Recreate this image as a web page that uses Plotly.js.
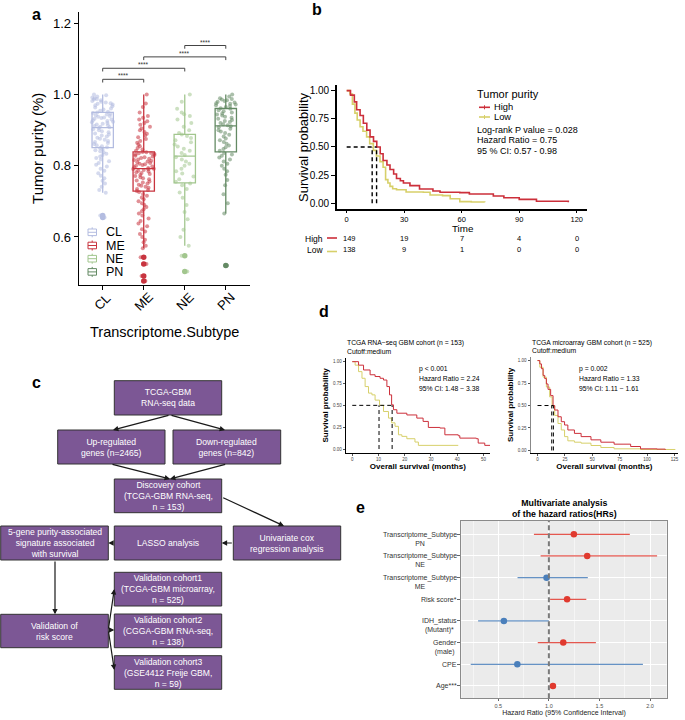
<!DOCTYPE html>
<html><head><meta charset="utf-8">
<script src="https://cdn.plot.ly/plotly-3.0.1.min.js"></script>
<style>html,body{margin:0;padding:0;background:#fff}#chart{width:685px;height:720px}</style>
</head><body><div id="chart"></div>
<script>
const W=685,H=720;
const FONT='Liberation Sans, Arial, Helvetica, sans-serif';
const px=x=>x/W, py=y=>1-y/H;

/* ---------- Panel a data ---------- */
const subtypes=['CL','ME','NE','PN'];
const subColors=['#b3bce0','#c8343f','#a2c68e','#648a64'];
const boxQ1=[0.851,0.729,0.752,0.839];
const boxMedian=[0.907,0.792,0.827,0.912];
const boxQ3=[0.950,0.839,0.888,0.961];
const boxLower=[0.724,0.568,0.575,0.666];
const boxUpper=[1.000,1.000,1.000,1.000];
const purityCL=[0.724,0.732,0.741,0.75,0.758,0.765,0.772,0.779,0.786,0.792,0.798,0.803,0.808,0.813,0.818,0.822,0.826,0.83,0.834,0.838,0.841,0.844,0.847,0.85,
0.852,0.855,0.858,0.861,0.864,0.867,0.87,0.873,0.876,0.879,0.882,0.885,0.888,0.891,0.894,0.897,0.9,0.903,0.906,
0.908,0.91,0.912,0.914,0.916,0.918,0.92,0.922,0.924,0.926,0.928,0.93,0.932,0.934,0.936,0.938,0.94,0.942,0.944,0.946,0.948,0.95,
0.952,0.955,0.958,0.961,0.964,0.967,0.97,0.972,0.974,0.976,0.978,0.98,0.982,0.984,0.986,0.988,0.99,0.992,0.995,0.998,1.0,0.66,0.655];
const purityME=[0.568,0.575,0.585,0.592,0.6,0.608,0.615,0.622,0.63,0.638,0.645,0.652,0.66,0.666,0.672,0.678,0.684,0.69,0.695,0.7,0.706,0.711,0.716,0.721,0.726,
0.729,0.732,0.735,0.738,0.741,0.744,0.747,0.75,0.753,0.756,0.759,0.762,0.765,0.768,0.771,0.774,0.777,0.78,0.782,0.784,0.786,0.788,0.79,0.791,0.792,
0.794,0.796,0.798,0.8,0.802,0.804,0.806,0.808,0.81,0.812,0.814,0.816,0.818,0.82,0.822,0.824,0.826,0.828,0.83,0.832,0.834,0.835,0.836,0.838,0.839,
0.842,0.846,0.85,0.855,0.86,0.865,0.87,0.875,0.88,0.885,0.89,0.895,0.9,0.905,0.91,0.915,0.92,0.925,0.93,0.935,0.94,0.95,0.965,0.975,1.0,
0.543,0.524,0.49,0.476];
const purityNE=[0.575,0.6,0.62,0.65,0.67,0.69,0.71,0.725,0.735,0.745,0.75,
0.755,0.762,0.77,0.778,0.785,0.792,0.8,0.806,0.812,0.818,0.824,
0.83,0.836,0.842,0.848,0.854,0.86,0.866,0.872,0.878,0.884,0.888,
0.892,0.9,0.91,0.92,0.93,0.94,0.945,0.95,0.96,0.98,1.0,0.547,0.503];
const purityPN=[0.666,0.695,0.72,0.745,0.76,0.775,0.785,0.792,0.8,0.806,0.812,0.818,0.823,0.828,0.832,0.836,
0.842,0.847,0.852,0.857,0.862,0.867,0.872,0.877,0.882,0.887,0.892,0.896,0.9,0.904,0.908,0.911,
0.914,0.917,0.92,0.923,0.926,0.929,0.932,0.935,0.938,0.941,0.944,0.947,0.95,0.953,0.956,0.96,
0.962,0.965,0.968,0.97,0.972,0.974,0.976,0.978,0.98,0.982,0.984,0.986,0.988,0.99,0.995,1.0,0.52];
const purity=[purityCL,purityME,purityNE,purityPN];
const outCL=[0.66,0.655], outME=[0.543,0.524,0.49,0.476], outNE=[0.547,0.503], outPN=[0.52];
const outliers=[outCL,outME,outNE,outPN];
const comparisons=[['CL','ME',1.043],['CL','NE',1.074],['ME','PN',1.106],['NE','PN',1.138]];
const sigText='****';

/* ---------- Panel b data ---------- */
const bHighT=[0,2,4,5.2,7,8.7,10.5,12.2,14,15.7,17.5,19,21,22.6,24.5,26,28,29.6,33,38,45,48.7,59,64,76.5,82,90,99,115.6];
const bHighS=[1,0.96,0.9,0.83,0.78,0.71,0.65,0.59,0.55,0.5,0.44,0.38,0.34,0.3,0.26,0.22,0.2,0.18,0.157,0.127,0.11,0.098,0.095,0.083,0.065,0.05,0.035,0.018,0.01];
const bLowT=[0,1.7,3,4.3,5.5,7,8.5,10.4,12,13.9,15.5,17.4,19,20.3,21.5,22.6,24,26,31,40,43.5,50,54,59,65,72];
const bLowS=[1,0.97,0.88,0.8,0.74,0.68,0.64,0.59,0.53,0.47,0.42,0.37,0.32,0.21,0.18,0.15,0.13,0.12,0.1,0.098,0.074,0.068,0.04,0.015,0.012,0.01];
const bMedianHigh=15.6, bMedianLow=13.3;
const riskTimes=[0,30,60,90,120];
const riskHigh=[149,19,7,4,0];
const riskLow=[138,9,1,0,0];
const bStats=['Log-rank P value = 0.028','Hazard Ratio = 0.75','95 % CI: 0.57 - 0.98'];

/* ---------- Panel d data ---------- */
const dLHighT=[0,2.4,4.3,6.8,8.7,10.6,11.9,13.2,14.2,15,15.7,17,20.8,24.6,27,29,33.4,35.3,40.4,41,47.3,48,50.5,53];
const dLHighS=[1,0.96,0.905,0.85,0.83,0.81,0.79,0.715,0.62,0.506,0.45,0.41,0.39,0.354,0.316,0.247,0.24,0.163,0.152,0.125,0.118,0.068,0.042,0.042];
const dLLowT=[0,1.1,2.4,3.7,4.9,6.2,7.5,8.7,10.4,11.9,13.8,15,16.3,17.6,18.9,20.8,23.9,25.2,40.4];
const dLLowS=[1,0.96,0.886,0.81,0.715,0.64,0.62,0.56,0.5,0.43,0.354,0.3,0.26,0.163,0.145,0.118,0.08,0.042,0.042];
const dLMedians=[15.2,10.2];
const dLStats=['p < 0.001','Hazard Ratio = 2.24','95% CI: 1.48 − 3.38'];
const dRHighT=[0,2.1,3.6,5.1,6.6,8.1,9.6,12,14.2,15.7,18.7,21.7,24.7,27.7,33.7,39.8,48.8,57.8,69.9,78.9,85,94,109,116.6];
const dRHighS=[1,0.963,0.91,0.835,0.8,0.74,0.68,0.61,0.5,0.45,0.375,0.32,0.283,0.228,0.19,0.154,0.118,0.092,0.07,0.07,0.044,0.018,0.015,0.007];
const dRLowT=[0,2.1,5.1,8.1,11.1,13.3,15.7,18.7,21.7,24.7,27.7,33.7,39.8,48.8,57.8,69.9,94,125.6];
const dRLowS=[1,0.926,0.816,0.706,0.596,0.496,0.39,0.3,0.228,0.154,0.107,0.092,0.081,0.055,0.033,0.018,0.011,0.007];
const dRMedians=[14.5,13.0];
const dRStats=['p = 0.002','Hazard Ratio = 1.33','95% CI: 1.11 − 1.61'];

/* ---------- Panel e data ---------- */
const eLabels=['Transcriptome_Subtype<br>PN','Transcriptome_Subtype<br>NE','Transcriptome_Subtype<br>ME','Risk score*','IDH_status<br>(Mutant)*','Gender<br>(male)','CPE','Age***'];
const eHR  =[1.247,1.379,0.977,1.180,0.555,1.142,0.688,1.040];
const eLow =[0.852,0.918,0.690,1.012,0.300,0.890,0.227,1.020];
const eHigh=[1.800,2.070,1.385,1.370,1.000,1.465,1.930,1.060];

/* ---------- Panel c content ---------- */
const flowTexts=['TCGA-GBM<br>RNA-seq data','Up-regulated<br>genes (n=2465)','Down-regulated<br>genes (n=842)',
'Discovery cohort<br>(TCGA-GBM RNA-seq,<br>n = 153)','5-gene purity-associated<br>signature associated<br>with survival','LASSO analysis',
'Univariate cox<br>regression analysis','Validation cohort1<br>(TCGA-GBM microarray,<br>n = 525)','Validation of<br>risk score',
'Validation cohort2<br>(CGGA-GBM RNA-seq,<br>n = 138)','Validation cohort3<br>(GSE4412 Freije GBM,<br>n = 59)'];

/* ======== styles ======== */
const RED='#cc2f3a', YEL='#d7d06a';
const HR_RED='#e03a2f', HR_BLUE='#4a7fbb';
const traces=[], shapes=[], annotations=[];
const ann=(o)=>annotations.push(Object.assign({showarrow:false,xanchor:'center',yanchor:'middle',borderpad:0,font:{family:FONT,size:10,color:'#000'}},o));

/* ---- a ---- */
subtypes.forEach((s,i)=>{
  traces.push({type:'box',name:s,x:[s],q1:[boxQ1[i]],median:[boxMedian[i]],q3:[boxQ3[i]],lowerfence:[boxLower[i]],upperfence:[boxUpper[i]],
    xaxis:'x',yaxis:'y',width:0.52,whiskerwidth:0,boxpoints:false,line:{color:subColors[i],width:1.3},fillcolor:'rgba(255,255,255,0)',hoverinfo:'skip'});
});
subtypes.forEach((s,i)=>{
  traces.push({type:'box',name:s,x:purity[i].map(()=>s),y:purity[i],xaxis:'x',yaxis:'y',boxpoints:'all',jitter:0.9,pointpos:0,width:0.6,
    whiskerwidth:0,line:{width:0,color:'rgba(0,0,0,0)'},fillcolor:'rgba(0,0,0,0)',marker:{color:subColors[i],size:4,opacity:0.55},hoverinfo:'skip'});
});
subtypes.forEach((s,i)=>{
  traces.push({type:'scatter',mode:'markers',x:outliers[i].map(()=>s),y:outliers[i],xaxis:'x',yaxis:'y',marker:{color:subColors[i],size:5.5},hoverinfo:'skip'});
});
comparisons.forEach(([a,b,yv])=>{
  const i0=subtypes.indexOf(a), i1=subtypes.indexOf(b);
  shapes.push({type:'path',xref:'x',yref:'y',path:`M ${i0},${yv-0.009} L ${i0},${yv} L ${i1},${yv} L ${i1},${yv-0.009}`,line:{color:'#444',width:1}});
  ann({xref:'x',yref:'y',x:(i0+i1)/2,y:yv,yanchor:'bottom',yshift:-1,text:sigText,font:{family:FONT,size:6.5,color:'#333'}});
});
// rotated category labels
subtypes.forEach(s=>ann({xref:'x',yref:'paper',x:s,y:py(301.5),text:s,textangle:-45,font:{family:FONT,size:13}}));
ann({xref:'paper',yref:'paper',x:px(164),y:py(332),text:'Transcriptome.Subtype',font:{family:FONT,size:14.5}});
// legend for a (manual)
subtypes.forEach((s,i)=>{
  const cy=232.3+i*13.2;
  shapes.push({type:'rect',xref:'paper',yref:'paper',x0:px(88),x1:px(96.5),y0:py(cy-3.3),y1:py(cy+3.3),line:{color:subColors[i],width:1},fillcolor:'rgba(255,255,255,0)'});
  shapes.push({type:'line',xref:'paper',yref:'paper',x0:px(88),x1:px(96.5),y0:py(cy),y1:py(cy),line:{color:subColors[i],width:1}});
  shapes.push({type:'line',xref:'paper',yref:'paper',x0:px(92.2),x1:px(92.2),y0:py(cy-5),y1:py(cy-3.3),line:{color:subColors[i],width:1}});
  shapes.push({type:'line',xref:'paper',yref:'paper',x0:px(92.2),x1:px(92.2),y0:py(cy+3.3),y1:py(cy+5),line:{color:subColors[i],width:1}});
  ann({xref:'paper',yref:'paper',x:px(105),y:py(cy),xanchor:'left',text:s,font:{family:FONT,size:12.5,color:'#000'}});
});

/* ---- b ---- */
traces.push({type:'scatter',mode:'lines',x:bLowT,y:bLowS,xaxis:'x2',yaxis:'y2',line:{shape:'hv',color:YEL,width:1.6},hoverinfo:'skip'});
traces.push({type:'scatter',mode:'lines',x:bHighT,y:bHighS,xaxis:'x2',yaxis:'y2',line:{shape:'hv',color:RED,width:1.6},hoverinfo:'skip'});
shapes.push({type:'line',xref:'x2',yref:'y2',x0:0,x1:bMedianHigh,y0:0.5,y1:0.5,line:{color:'#000',width:1.4,dash:'4px,3px'}});
[bMedianLow,bMedianHigh].forEach(m=>shapes.push({type:'line',xref:'x2',yref:'y2',x0:m,x1:m,y0:0,y1:0.5,line:{color:'#000',width:1.4,dash:'4px,3px'}}));
ann({xref:'paper',yref:'paper',x:px(476),y:py(94.3),xanchor:'left',text:'Tumor purity',font:{family:FONT,size:11}});
[['High',RED,107.3],['Low',YEL,117]].forEach(([t,c,y])=>{
  shapes.push({type:'line',xref:'paper',yref:'paper',x0:px(479),x1:px(490),y0:py(y),y1:py(y),line:{color:c,width:1.6}});
  shapes.push({type:'line',xref:'paper',yref:'paper',x0:px(484.5),x1:px(484.5),y0:py(y-2),y1:py(y+2),line:{color:c,width:1}});
  ann({xref:'paper',yref:'paper',x:px(493),y:py(y),xanchor:'left',text:t,font:{family:FONT,size:9.3}});
});
bStats.forEach((t,i)=>ann({xref:'paper',yref:'paper',x:px(476),y:py(130+i*10.4),xanchor:'left',text:t,font:{family:FONT,size:9}}));
[['High',RED,239,riskHigh],['Low',YEL,249.5,riskLow]].forEach(([t,c,y,vals],k)=>{
  ann({xref:'paper',yref:'paper',x:px(324),y:py(y),xanchor:'right',text:t,font:{family:FONT,size:8.5}});
  shapes.push({type:'line',xref:'paper',yref:'paper',x0:px(327),x1:px(337),y0:py(y+k*3-1),y1:py(y+k*3-1),line:{color:c,width:1.6}});
  riskTimes.forEach((tm,j)=>ann({xref:'x2',yref:'paper',x:tm,y:py(y),text:String(vals[j]),xshift:j===0?3:0,font:{family:FONT,size:7.5}}));
});
ann({xref:'paper',yref:'paper',x:px(304),y:py(147),text:'Survival probability',textangle:-90,font:{family:FONT,size:13}});
ann({xref:'paper',yref:'paper',x:px(463),y:py(228),text:'Time',font:{family:FONT,size:9.8}});

/* ---- d ---- */
traces.push({type:'scatter',mode:'lines',x:dLLowT,y:dLLowS,xaxis:'x3',yaxis:'y3',line:{shape:'hv',color:YEL,width:1},hoverinfo:'skip'});
traces.push({type:'scatter',mode:'lines',x:dLHighT,y:dLHighS,xaxis:'x3',yaxis:'y3',line:{shape:'hv',color:RED,width:1},hoverinfo:'skip'});
traces.push({type:'scatter',mode:'lines',x:dRLowT,y:dRLowS,xaxis:'x4',yaxis:'y4',line:{shape:'hv',color:YEL,width:1},hoverinfo:'skip'});
traces.push({type:'scatter',mode:'lines',x:dRHighT,y:dRHighS,xaxis:'x4',yaxis:'y4',line:{shape:'hv',color:RED,width:1},hoverinfo:'skip'});
[['x3','y3',dLMedians],['x4','y4',dRMedians]].forEach(([xr,yr,m])=>{
  shapes.push({type:'line',xref:xr,yref:yr,x0:0,x1:Math.max(...m),y0:0.5,y1:0.5,line:{color:'#000',width:1,dash:'4px,3px'}});
  m.forEach(v=>shapes.push({type:'line',xref:xr,yref:yr,x0:v,x1:v,y0:0,y1:0.5,line:{color:'#000',width:1,dash:'4px,3px'}}));
});
ann({xref:'paper',yref:'paper',x:px(345.5),y:py(343.3),xanchor:'left',text:'TCGA RNA−seq GBM cohort (n = 153)',font:{family:FONT,size:6.8}});
ann({xref:'paper',yref:'paper',x:px(345.5),y:py(351.5),xanchor:'left',text:'Cutoff:medium',font:{family:FONT,size:6.8}});
ann({xref:'paper',yref:'paper',x:px(530.5),y:py(343.3),xanchor:'left',text:'TCGA microarray GBM cohort (n = 525)',font:{family:FONT,size:6.8}});
ann({xref:'paper',yref:'paper',x:px(530.5),y:py(350.5),xanchor:'left',text:'Cutoff:medium',font:{family:FONT,size:6.8}});
dLStats.forEach((t,i)=>ann({xref:'paper',yref:'paper',x:px(417.5),y:py(369+i*9.9),xanchor:'left',text:t,font:{family:FONT,size:6.8}}));
dRStats.forEach((t,i)=>ann({xref:'paper',yref:'paper',x:px(578),y:py(369+i*9.5),xanchor:'left',text:t,font:{family:FONT,size:6.8}}));

/* ---- e ---- */
shapes.push({type:'rect',xref:'x5 domain',yref:'y5 domain',x0:0,x1:1,y0:0,y1:1,fillcolor:'#ebebeb',line:{width:0},layer:'below'});
shapes.push({type:'line',xref:'x5',yref:'y5 domain',x0:1,x1:1,y0:0,y1:1,line:{color:'#7a7a7a',width:2,dash:'5px,3px'}});
[[h=>h>=1,HR_RED,'rgba(224,58,47,0.85)'],[h=>h<1,HR_BLUE,'rgba(74,127,187,0.85)']].forEach(([f,c,cl])=>{
  const idx=eHR.map((h,i)=>i).filter(i=>f(eHR[i]));
  traces.push({type:'scatter',mode:'markers',xaxis:'x5',yaxis:'y5',x:idx.map(i=>eHR[i]),y:idx.map(i=>eLabels[i]),
    marker:{color:c,size:6.5},error_x:{type:'data',symmetric:false,array:idx.map(i=>eHigh[i]-eHR[i]),arrayminus:idx.map(i=>eHR[i]-eLow[i]),color:cl,thickness:1.3,width:0},hoverinfo:'skip'});
});
eLabels.forEach(l=>{
  const two=l.includes('<br>');
  ann({xref:'paper',yref:'y5',x:px(457.5),y:l,xanchor:'right',yanchor:two?'top':'middle',yshift:two?4.6:0,align:'center',text:l,font:{family:FONT,size:7,color:'#333'}});
});
ann({xref:'paper',yref:'paper',x:px(564),y:py(508),text:'<b>Multivariate analysis<br>of the hazard ratios(HRs)</b>',font:{family:FONT,size:8.8,color:'#000'}});

/* ---- c flowchart ---- */
const flowGeom=[[114.3,221.7,380.7,415],[57.7,165,430,464],[173,280.7,430,464],[114.3,221.7,479,512.7],[0.7,108.3,526,560],[114.3,221.7,526,560],
[233.3,340.7,526,560],[114.3,221.7,572.3,606],[0.7,108.3,614.3,647.7],[114.3,221.7,614,647.7],[114.3,221.7,655.7,689.3]];
flowGeom.forEach((g,i)=>{
  shapes.push({type:'rect',xref:'paper',yref:'paper',x0:px(g[0]),x1:px(g[1]),y0:py(g[3]),y1:py(g[2]),fillcolor:'#7c5795',line:{color:'#333',width:1}});
  ann({xref:'paper',yref:'paper',x:px((g[0]+g[1])/2),y:py((g[2]+g[3])/2),text:flowTexts[i],font:{family:FONT,size:8.6,color:'#fff'}});
});
const arrows=[[170,415,113,430],[170,415,225,430],[111,464,170,479],[226.7,464,170,479],[221.7,497,284,526],[233.3,543,221.7,543],
[114.3,543,108.3,543],[55,560,55,614.3],[108.3,630,114.3,589],[108.3,630,114.3,630],[108.3,630,114.3,670]];
arrows.forEach(([x0,y0,x1,y1])=>annotations.push({xref:'paper',yref:'paper',x:px(x1),y:py(y1),ax:x0-x1,ay:y0-y1,text:'',showarrow:true,
  arrowhead:2,arrowsize:0.9,arrowwidth:1.2,arrowcolor:'#1a1a1a',standoff:0,startstandoff:0}));

/* ---- panel letters ---- */
[['a',36,14],['b',317,10],['c',36,382],['d',324,311],['e',360,507]].forEach(([t,x,y])=>ann({xref:'paper',yref:'paper',x:px(x),y:py(y),text:'<b>'+t+'</b>',font:{family:FONT,size:16}}));

const axBase={showgrid:false,zeroline:false,showline:true,linecolor:'#000',ticks:'outside',tickcolor:'#000'};
const layout={
  width:W,height:H,margin:{l:0,r:0,t:0,b:0},paper_bgcolor:'#fff',plot_bgcolor:'rgba(0,0,0,0)',showlegend:false,
  font:{family:FONT,color:'#000'},
  xaxis:Object.assign({},axBase,{domain:[px(78.7),px(250)],anchor:'y',type:'category',categoryorder:'array',categoryarray:subtypes,range:[-0.585,3.59],
    linewidth:1,ticklen:4,showticklabels:false}),
  yaxis:Object.assign({},axBase,{domain:[py(285),py(11.7)],anchor:'x',range:[0.465,1.233],tickvals:[0.6,0.8,1.0,1.2],tickformat:'.1f',
    linewidth:1,ticklen:4,tickfont:{size:13},title:{text:'Tumor purity (%)',font:{size:15},standoff:5}}),
  xaxis2:Object.assign({},axBase,{domain:[px(336.7),px(586.7)],anchor:'y2',range:[-5.2,125.2],tickvals:riskTimes,linewidth:1.6,ticklen:2.5,
    tickfont:{size:7.5}}),
  yaxis2:Object.assign({},axBase,{domain:[py(209.3),py(85)],anchor:'x2',range:[-0.053,1.05],tickvals:[0,0.25,0.5,0.75,1],tickformat:'.2f',linewidth:1.6,ticklen:4,
    tickfont:{size:10}}),
  xaxis3:Object.assign({},axBase,{domain:[px(345.7),px(490)],anchor:'y3',range:[-2.5,52.5],tickvals:[0,10,20,30,40,50],linewidth:1,ticklen:2,tickcolor:'#555',
    tickfont:{size:4.5,color:'#444'},title:{text:'<b>Overall survival (months)</b>',font:{size:8},standoff:2}}),
  yaxis3:Object.assign({},axBase,{domain:[py(452.7),py(358)],anchor:'x3',range:[-0.042,1.042],tickvals:[0,0.25,0.5,0.75,1],tickformat:'.2f',linewidth:1,ticklen:2,tickcolor:'#555',
    tickfont:{size:4.5,color:'#444'},title:{text:'<b>Survival probability</b>',font:{size:8},standoff:3}}),
  xaxis4:Object.assign({},axBase,{domain:[px(530.7),px(678)],anchor:'y4',range:[-6.2,128.2],tickvals:[0,25,50,75,100,125],linewidth:1,ticklen:2,tickcolor:'#555',
    tickfont:{size:4.5,color:'#444'},title:{text:'<b>Overall survival (months)</b>',font:{size:8},standoff:2}}),
  yaxis4:Object.assign({},axBase,{domain:[py(452.7),py(357)],anchor:'x4',range:[-0.025,1.04],tickvals:[0,0.25,0.5,0.75,1],tickformat:'.2f',linewidth:1.2,linecolor:'#888',ticklen:2,tickcolor:'#555',
    tickfont:{size:4.5,color:'#444'},title:{text:'<b>Survival probability</b>',font:{size:8},standoff:3}}),
  xaxis5:{domain:[px(461.3),px(666.7)],anchor:'y5',range:[0.134,2.165],tickvals:[0.5,1,1.5,2],tickformat:'.1f',showgrid:true,gridcolor:'#fff',gridwidth:1,
    minor:{dtick:0.25,showgrid:true,gridcolor:'#fff',gridwidth:0.5},zeroline:false,showline:true,mirror:true,linecolor:'#8a8a8a',linewidth:1,
    ticks:'outside',ticklen:2,tickcolor:'#666',tickfont:{size:5.5,color:'#4d4d4d'},title:{text:'Hazard Ratio (95% Confidence Interval)',font:{size:7,color:'#222'},standoff:2}},
  yaxis5:{domain:[py(698.3),py(521)],anchor:'x5',type:'category',categoryorder:'array',categoryarray:eLabels,range:[7.57,-0.614],showticklabels:false,
    showgrid:true,gridcolor:'#fff',gridwidth:1,zeroline:false,showline:true,mirror:true,linecolor:'#8a8a8a',linewidth:1,ticks:'outside',ticklen:3,tickcolor:'#666'},
  shapes:shapes,annotations:annotations
};
Plotly.newPlot('chart',traces,layout,{staticPlot:true,displayModeBar:false});
</script></body></html>
